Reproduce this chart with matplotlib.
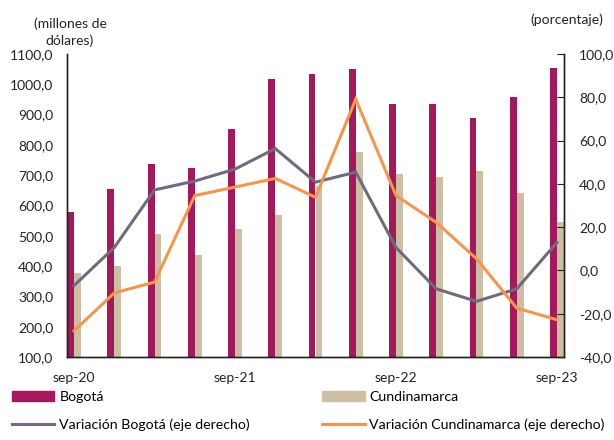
import numpy as np
import matplotlib
matplotlib.use("Agg")
import matplotlib.pyplot as plt
from matplotlib.patches import Patch
from matplotlib.lines import Line2D

plt.rcParams['font.family'] = ['Lato', 'DejaVu Sans']

periodos = ['sep-20', 'dic-20', 'mar-21', 'jun-21', 'sep-21', 'dic-21', 'mar-22',
            'jun-22', 'sep-22', 'dic-22', 'mar-23', 'jun-23', 'sep-23']
bogota = [578, 654, 737, 723, 851, 1017, 1033, 1050, 934, 934, 888, 959, 1055]
cundinamarca = [378, 400, 506, 437, 523, 568, 665, 777, 703, 695, 713, 640, 546]
var_bogota = [-7.0, 10.6, 37.2, 41.3, 46.8, 56.3, 40.8, 45.4, 10.6, -8.5, -14.3, -8.5, 12.9]
var_cundinamarca = [-27.9, -10.4, -5.4, 34.6, 38.5, 42.5, 33.8, 79.1, 34.6, 22.2, 5.4, -17.4, -22.8]
etiquetas = {0: 'sep-20', 4: 'sep-21', 8: 'sep-22', 12: 'sep-23'}

c_bog = '#A3195B'
c_cun = '#CDBFA3'
c_vbog = '#716A7F'
c_vcun = '#F7964A'

fig = plt.figure(figsize=(6.14, 4.4), dpi=100)
ax = fig.add_axes([67/614, 83/440, 497/614, 303/440])
ax2 = ax.twinx()

x = np.arange(len(periodos))
w = 0.17
ax.bar(x - w/2, np.array(bogota) - 100, w, bottom=100, color=c_bog, zorder=2)
ax.bar(x + w/2, np.array(cundinamarca) - 100, w, bottom=100, color=c_cun, zorder=2)
ax2.plot(x, var_bogota, color=c_vbog, lw=2.2, solid_joinstyle='miter')
ax2.plot(x, var_cundinamarca, color=c_vcun, lw=2.2, solid_joinstyle='miter')

ax.set_xlim(-0.175, len(periodos) - 1 + 0.175)
ax.set_ylim(100, 1100)
ax2.set_ylim(-40, 100)

fmt = lambda v: f'{v:.1f}'.replace('.', ',')
ax.set_yticks(np.arange(100, 1101, 100))
ax.set_yticklabels([fmt(v) for v in np.arange(100, 1101, 100)])
ax2.set_yticks(np.arange(-40, 101, 20))
ax2.set_yticklabels([fmt(v) for v in np.arange(-40, 101, 20)])
ax.set_xticks(list(etiquetas.keys()))
ax.set_xticklabels(list(etiquetas.values()))

for a in (ax, ax2):
    a.spines['top'].set_visible(False)
    for s in a.spines.values():
        s.set_color('#222222')
        s.set_linewidth(1.0)
ax.tick_params(axis='y', length=0, labelsize=10, pad=10, colors='#222222')
ax2.tick_params(axis='y', direction='in', length=5, labelsize=10, pad=11, colors='#222222')
ax.tick_params(axis='x', direction='in', length=4, labelsize=10, pad=11, colors='#222222')

fig.text(70/614, 1 - 32/440, '(millones de\ndólares)', ha='center', va='center',
         fontsize=10, linespacing=1.45, color='#222222')
fig.text(567/614, 1 - 20/440, '(porcentaje)', ha='center', va='center',
         fontsize=10, color='#222222')

ley = dict(frameon=False, fontsize=10.2, handlelength=3.0, handletextpad=0.35,
           labelspacing=1.12, borderaxespad=0, borderpad=0)
fig.legend(handles=[Patch(color=c_bog, label='Bogotá'),
                    Line2D([], [], color=c_vbog, lw=2.2, label='Variación Bogotá (eje derecho)')],
           loc='upper left', bbox_to_anchor=(12/614, 1 - 391/440), **ley)
fig.legend(handles=[Patch(color=c_cun, label='Cundinamarca'),
                    Line2D([], [], color=c_vcun, lw=2.2, label='Variación Cundinamarca (eje derecho)')],
           loc='upper left', bbox_to_anchor=(322/614, 1 - 391/440), **ley)

fig.savefig('out.png', dpi=100)
